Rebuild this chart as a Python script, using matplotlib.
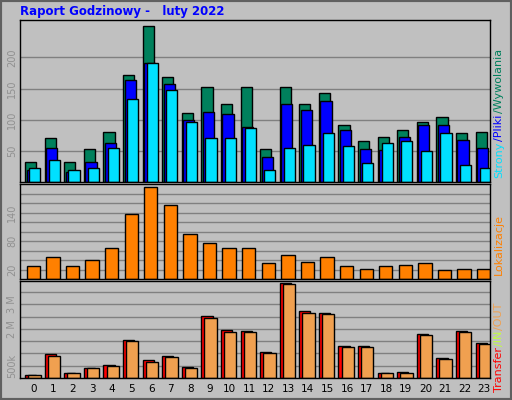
import matplotlib
matplotlib.use("Agg")
import matplotlib.pyplot as plt
import numpy as np

hours = list(range(24))
hits = [32, 71, 32, 53, 81, 171, 250, 168, 110, 153, 125, 153, 53, 153, 125, 143, 91, 66, 73, 84, 97, 104, 79, 81]
files = [19, 55, 16, 32, 63, 163, 191, 158, 99, 112, 109, 89, 40, 125, 115, 130, 84, 53, 51, 73, 92, 92, 68, 55]
pages = [22, 35, 20, 23, 55, 133, 191, 148, 96, 71, 71, 86, 19, 55, 60, 79, 58, 30, 63, 66, 50, 79, 27, 22]
sites = [27, 46, 27, 40, 66, 136, 193, 156, 95, 75, 66, 66, 33, 51, 36, 46, 27, 22, 27, 29, 33, 18, 22, 22]
kbytes = [0.14, 0.97, 0.19, 0.40, 0.53, 1.56, 0.74, 0.91, 0.44, 2.54, 1.94, 1.90, 1.04, 3.87, 2.71, 2.63, 1.30, 1.30, 0.19, 0.23, 1.81, 0.83, 1.90, 1.43]
k_out = [0.14, 0.91, 0.19, 0.40, 0.49, 1.51, 0.66, 0.87, 0.40, 2.46, 1.86, 1.86, 1.00, 3.83, 2.63, 2.59, 1.26, 1.26, 0.19, 0.19, 1.77, 0.79, 1.86, 1.39]

W, H = 512, 400
fig = plt.figure(figsize=(5.12, 4.0), dpi=100, facecolor="#c0c0c0")

def ax_at(x0, y0, x1, y1):
    # pixel box, y measured from top
    a = fig.add_axes([x0 / W, 1 - y1 / H, (x1 - x0) / W, (y1 - y0) / H])
    a.set_facecolor("#c0c0c0")
    a.set_xlim(0, 24)
    for s in a.spines.values():
        s.set_color("black")
        s.set_linewidth(1)
    a.tick_params(axis="x", length=0, labelbottom=False)
    a.tick_params(axis="y", length=0, labelsize=7, labelcolor="#909090", pad=2)
    return a

x = np.array(hours)
ek = dict(edgecolor="black", linewidth=1, align="edge", width=0.57)

# top: hits / files / pages
ax1 = ax_at(20, 20, 490, 182)
ax1.set_ylim(0, 260)
for v in [50, 100, 150, 200]:
    ax1.axhline(v, color="#808080", lw=1, zorder=0)
ax1.bar(x + 0.26, hits, color="#00805c", **ek)
ax1.bar(x + 0.34, files, color="#0000ff", **ek)
ax1.bar(x + 0.47, pages, color="#00e0ff", **ek)
ax1.set_yticks([50, 100, 150, 200])
ax1.set_yticklabels(["50", "100", "150", "200"], rotation=90, va="center")

# middle: sites
ax2 = ax_at(20, 184, 490, 279)
ax2.set_ylim(0, 200)
for v in range(20, 200, 20):
    ax2.axhline(v, color="#808080", lw=1, zorder=0)
ax2.set_yticks([20, 80, 140])
ax2.set_yticklabels(["20", "80", "140"], rotation=90, va="center")
ax2.bar(x + 0.34, sites, width=0.68, color="#ff8000", edgecolor="black", linewidth=1, align="edge")

# bottom: transfer
ax3 = ax_at(20, 281, 490, 378)
ax3.set_ylim(0, 3.95)
for v in np.arange(0.5, 4.0, 0.5):
    ax3.axhline(v, color="#808080", lw=1, zorder=0)
ax3.set_yticks([0.5, 2, 3])
ax3.set_yticklabels(["500k", "2 M", "3 M"], rotation=90, va="center")
ax3.bar(x + 0.26, kbytes, color="#ff0000", **ek)
ax3.bar(x + 0.34, [0.02] * 24, width=0.1, color="#c0ff40", align="edge", linewidth=0)
ax3.bar(x + 0.42, k_out, width=0.63, color="#f0a050", edgecolor="black", linewidth=1, align="edge")
ax3.tick_params(axis="x", labelbottom=True, labelsize=7.5, labelcolor="black", pad=4)
ax3.set_xticks(x + 0.7)
ax3.set_xticklabels([str(h) for h in hours])

fig.text(20 / W, 1 - 12 / H, "Raport Godzinowy -   luty 2022", color="#0000ff",
         fontsize=8.5, fontweight="bold", va="center")

renderer = fig.canvas.get_renderer()

def vlabel(parts, ybottom):
    # stack coloured pieces bottom-up, measuring each piece
    y = ybottom
    for txt, col in parts:
        t = fig.text(499 / W, 1 - y / H, txt, color=col, fontsize=8, rotation=90,
                     ha="center", va="bottom")
        y -= t.get_window_extent(renderer).height + 1

vlabel([("Strony", "#00e0ff"), ("/Pliki", "#0000ff"), ("/Wywolania", "#00805c")], 178)
vlabel([("Lokalizacje", "#ff8000")], 275)
vlabel([("Transfer", "#ff0000"), ("/IN", "#c0ff40"), ("/OUT", "#f0a050")], 392)

# outer frame
fig.patches.append(plt.Rectangle((0, 0), 1, 1, transform=fig.transFigure, fill=False,
                                 edgecolor="#606060", linewidth=3))
fig.savefig("out.png", dpi=100, facecolor=fig.get_facecolor())
